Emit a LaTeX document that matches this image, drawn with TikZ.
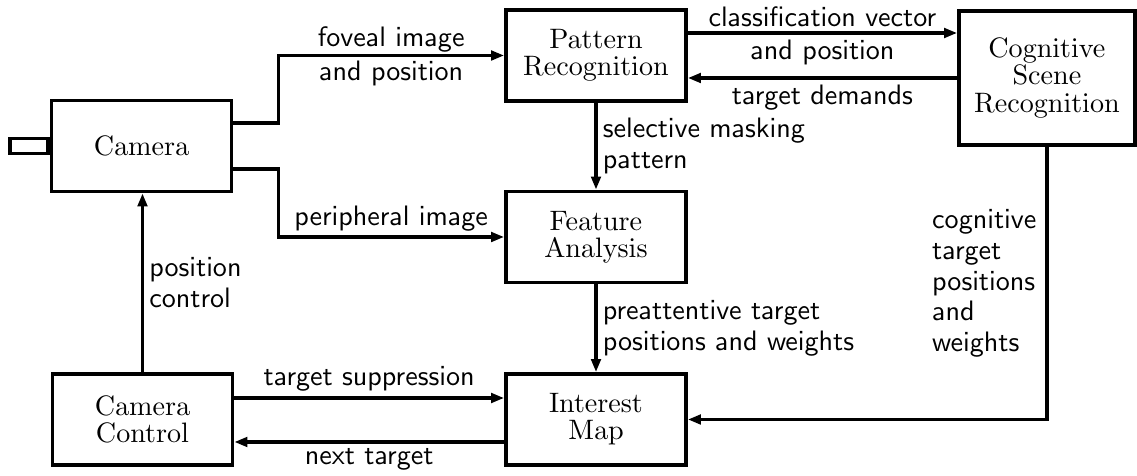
\documentclass[tikz,border=0pt]{standalone}
\usepackage{tikz}
\usetikzlibrary{positioning, arrows.meta, calc}

% design size 10pt, scaled up
\font\kastenrm=cmr10 at 16pt
\font\beschrsf=cmss10 at 16pt

\begin{document}
\begin{tikzpicture}[
    x=0.02cm, y=0.02cm,
    kasten/.style={draw, line width=2.2pt, minimum width=3.6cm, minimum height=1.82cm,
      align=center, inner sep=2pt, font=\fontsize{16}{15.5}\selectfont\kastenrm},
    pfeil/.style={line width=1.8pt, -{Triangle[length=2.6mm, width=1.9mm]}},
    beschr/.style={font=\fontsize{16}{17.5}\selectfont\beschrsf, inner sep=3pt},
  ]

  \useasboundingbox (0, 0) rectangle (1137, 476);

  % Bloecke
  \node[kasten] (cam) at (141.5, 330) {Camera};
  \node[draw, line width=2pt, minimum width=0.76cm, minimum height=0.3cm, inner sep=0pt,
    anchor=east] (lens) at (cam.west) {};
  \node[kasten] (pat) at (596, 420.5) {Pattern\\Recognition};
  \node[kasten] (feat) at (596, 239) {Feature\\Analysis};
  \node[kasten] (intr) at (596, 56.5) {Interest\\Map};
  \node[kasten] (ctrl) at (142.5, 56.5) {Camera\\Control};
  \node[kasten, minimum width=3.52cm, minimum height=2.68cm] (cog) at (1047, 398)
    {Cognitive\\Scene\\Recognition};

  % Kamera -> Pattern / Feature
  \draw[pfeil] ([yshift=0.46cm]cam.east) -- ++(45, 0) coordinate (fv) |- (pat.west);
  \path (fv |- pat.west) -- (pat.west)
    node[midway, above, beschr, yshift=-1pt] (fovtxt) {foveal image}
    node[midway, below, beschr] (fovpos) {and position};

  \draw[pfeil] ([yshift=-0.46cm]cam.east) -- ++(45, 0) coordinate (pv) |- (feat.west);
  \path (pv |- feat.west) -- (feat.west)
    node[midway, above, beschr] (pertxt) {peripheral image};

  % Pattern <-> Cognitive
  \draw[pfeil] ([yshift=0.45cm]pat.east) coordinate (kv) -- (kv -| cog.west)
    node[midway, above, beschr] (klass) {classification vector}
    node[midway, below, beschr] (klpos) {and position};
  \draw[pfeil] (cog.west) -- (cog.west -| pat.east)
    node[midway, below, beschr] (ziel) {target demands};

  % senkrechte Verbindungen
  \draw[pfeil] (pat.south) -- (feat.north)
    node[midway, right, beschr, align=left] (mask) {selective masking\\pattern};
  \draw[pfeil] (feat.south) -- (intr.north)
    node[midway, right, beschr, align=left] (prea) {preattentive target\\positions and weights};
  \draw[pfeil] (cog.south) |- (intr.east)
    coordinate[pos=0.5] (ecke);
  \path (cog.south) -- (cog.south |- ecke)
    node[midway, left, beschr, align=left, xshift=-0.1cm] (kogn)
    {cognitive\\target\\positions\\and\\weights};
  \draw[pfeil] (ctrl.north) -- (ctrl.north |- cam.south)
    node[midway, right, beschr, align=left] (posc) {position\\control};

  % Control <-> Interest
  \draw[pfeil] ([yshift=0.43cm]ctrl.east) coordinate (ts) -- (ts -| intr.west)
    node[midway, above, beschr] (supp) {target suppression};
  \draw[pfeil] ([yshift=-0.45cm]intr.west) coordinate (nt) -- (nt -| ctrl.east)
    node[midway, below, beschr] (next) {next target};
\end{tikzpicture}
\end{document}
